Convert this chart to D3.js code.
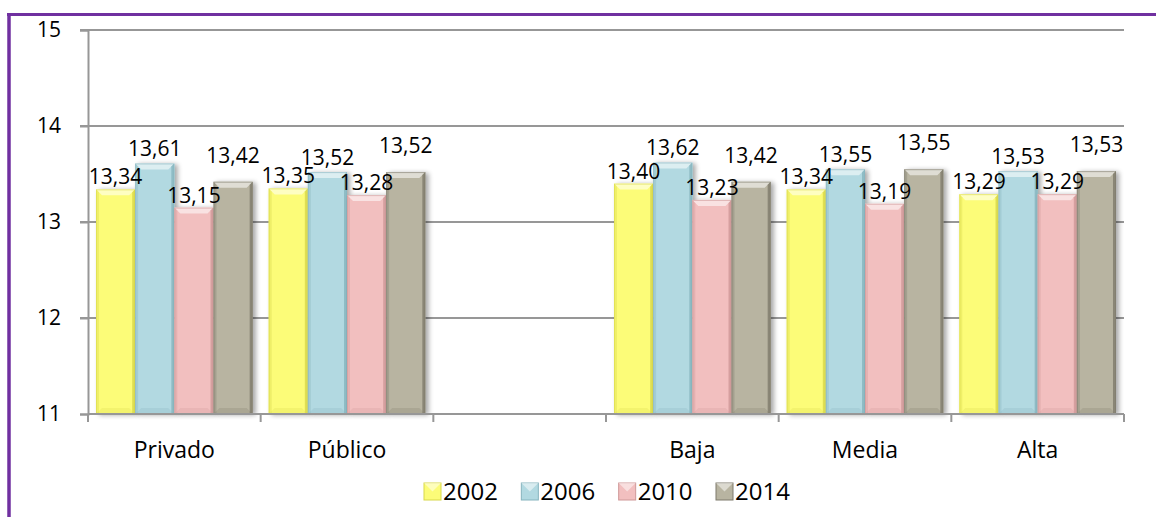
<!DOCTYPE html>
<html><head><meta charset="utf-8">
<script src="https://cdn.jsdelivr.net/npm/d3@7"></script>
<style>
html,body{margin:0;padding:0;background:#fff;}
svg{display:block;font-family:"Open Sans",Lato,sans-serif;}
</style></head>
<body>
<svg id="chart" width="1156" height="517"></svg>
<script>
const categories = ["Privado", "Público", "", "Baja", "Media", "Alta"];
const series = ["2002", "2006", "2010", "2014"];
const v2002 = [13.34, 13.35, null, 13.40, 13.34, 13.29];
const v2006 = [13.61, 13.52, null, 13.62, 13.55, 13.53];
const v2010 = [13.15, 13.28, null, 13.23, 13.19, 13.29];
const v2014 = [13.42, 13.52, null, 13.42, 13.55, 13.53];
const yTicks = [11, 12, 13, 14, 15];

const seriesValues = [v2002, v2006, v2010, v2014];
const colors = ["#FCFC78", "#B2D9E1", "#F2BFBF", "#B8B4A1"];
const darks = ["#D8D84A", "#86B4BE", "#CF9898", "#7E7B6C"];
const labelLift = [5, 7, 5, 19];
const FONT = "'Open Sans', Lato, sans-serif";

const svg = d3.select("#chart");
const W = 1156, H = 517;
const m = {left: 88, right: 32, top: 30, bottom: 103};

// purple frame
svg.append("line").attr("x1", 7).attr("x2", W).attr("y1", 14.5).attr("y2", 14.5)
  .attr("stroke", "#7030A0").attr("stroke-width", 3);
svg.append("line").attr("x1", 9).attr("x2", 9).attr("y1", 13).attr("y2", H)
  .attr("stroke", "#7030A0").attr("stroke-width", 3.5);

const x0 = d3.scaleBand().domain(categories.map((c, i) => i)).range([m.left, W - m.right]).padding(0);
const x1 = d3.scaleBand().domain(series).range([8, x0.bandwidth() - 8]).padding(0);
const y = d3.scaleLinear().domain([11, 15]).range([H - m.bottom, m.top]);

const defs = svg.append("defs");
const f = defs.append("filter").attr("id", "sh").attr("x", "-20%").attr("y", "-10%").attr("width", "150%").attr("height", "130%");
f.append("feGaussianBlur").attr("in", "SourceAlpha").attr("stdDeviation", 2.5);
f.append("feOffset").attr("dx", 3).attr("dy", 1).attr("result", "b");
f.append("feComponentTransfer").append("feFuncA").attr("type", "linear").attr("slope", 0.35);
const fm = f.append("feMerge");
fm.append("feMergeNode");
fm.append("feMergeNode").attr("in", "SourceGraphic");

// gridlines
const grid = svg.append("g");
grid.selectAll("line").data(yTicks.slice(1)).join("line")
  .attr("x1", m.left - 8).attr("x2", W - m.right)
  .attr("y1", d => y(d)).attr("y2", d => y(d))
  .attr("stroke", "#979797").attr("stroke-width", 2);

// y axis
const yAxis = svg.append("g").attr("transform", `translate(${m.left},0)`)
  .call(d3.axisLeft(y).tickValues(yTicks).tickSize(8).tickPadding(19).tickFormat(d3.format("d")));
yAxis.select(".domain").attr("stroke", "#979797").attr("stroke-width", 2);
yAxis.selectAll(".tick line").attr("stroke", "#979797").attr("stroke-width", 2);
yAxis.selectAll("text").attr("font-size", 21).attr("fill", "#000").attr("font-family", FONT);

// bars
const groups = svg.append("g").selectAll("g").data(categories.map((c, i) => i)).join("g")
  .attr("transform", i => `translate(${x0(i)},0)`);

groups.each(function(ci) {
  const g = d3.select(this);
  series.forEach((s, si) => {
    const v = seriesValues[si][ci];
    if (v == null) return;
    const bx = x1(s), bw = x1.bandwidth(), top = y(v), bot = y(11), bh = bot - top;
    const bar = g.append("g").attr("filter", "url(#sh)");
    bar.append("rect").attr("x", bx).attr("y", top).attr("width", bw).attr("height", bh)
      .attr("fill", colors[si]);
    const b = 6;
    bar.append("polygon")
      .attr("points", [[bx, top], [bx + bw, top], [bx + bw - b, top + b], [bx + b, top + b]].join(" "))
      .attr("fill", "#fff").attr("opacity", 0.55);
    bar.append("polygon")
      .attr("points", [[bx + bw, top], [bx + bw, bot], [bx + bw - 3, bot], [bx + bw - 3, top + 3]].join(" "))
      .attr("fill", darks[si]).attr("opacity", 0.8);
    bar.append("polygon")
      .attr("points", [[bx, top], [bx + 3, top + 3], [bx + 3, bot], [bx, bot]].join(" "))
      .attr("fill", darks[si]).attr("opacity", 0.35);
    bar.append("polygon")
      .attr("points", [[bx, bot], [bx + b, bot - b], [bx + bw - b, bot - b], [bx + bw, bot]].join(" "))
      .attr("fill", darks[si]).attr("opacity", 0.25);
    bar.append("rect").attr("x", bx + 0.5).attr("y", top + 0.5).attr("width", bw - 1).attr("height", bh - 1)
      .attr("fill", "none").attr("stroke", darks[si]).attr("stroke-opacity", 0.6).attr("stroke-width", 1);
  });
});

// x axis
const xAxisY = y(11);
svg.append("line").attr("x1", m.left).attr("x2", W - m.right).attr("y1", xAxisY).attr("y2", xAxisY)
  .attr("stroke", "#979797").attr("stroke-width", 2);
const tickXs = categories.map((c, i) => x0(i)).concat([x0(categories.length - 1) + x0.bandwidth()]);
svg.append("g").selectAll("line").data(tickXs).join("line")
  .attr("x1", d => d).attr("x2", d => d).attr("y1", xAxisY).attr("y2", xAxisY + 8)
  .attr("stroke", "#979797").attr("stroke-width", 2);
svg.append("g").selectAll("text").data(categories.map((c, i) => i)).join("text")
  .attr("x", i => x0(i) + x0.bandwidth() / 2).attr("y", 458)
  .attr("text-anchor", "middle").attr("font-size", 23).attr("fill", "#000")
  .text(i => categories[i]);

// data labels
groups.each(function(ci) {
  const g = d3.select(this);
  series.forEach((s, si) => {
    const v = seriesValues[si][ci];
    if (v == null) return;
    g.append("text").attr("x", x1(s) + x1.bandwidth() / 2).attr("y", y(v) - labelLift[si])
      .attr("text-anchor", "middle").attr("font-size", 21).attr("fill", "#000")
      .text(d3.format(".2f")(v).replace(".", ","));
  });
});

// legend
const legendX = d3.scalePoint().domain(series).range([424, 716]);
const leg = svg.append("g").selectAll("g").data(series).join("g")
  .attr("transform", s => `translate(${legendX(s)},483)`);
leg.append("rect").attr("width", 17).attr("height", 17).attr("fill", (s, i) => colors[i])
  .attr("stroke", (s, i) => darks[i]).attr("stroke-width", 1);
leg.append("polygon").attr("points", "0,0 17,0 8.5,8.5").attr("fill", "#fff").attr("opacity", 0.5);
leg.append("text").attr("x", 19).attr("y", 16.5).attr("font-size", 24).attr("fill", "#000").text(s => s);
</script>
</body></html>
